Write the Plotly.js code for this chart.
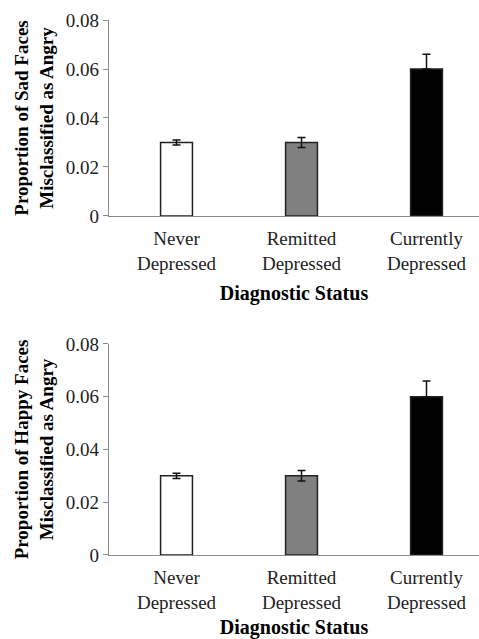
<!DOCTYPE html>
<html>
<head>
<meta charset="utf-8">
<script src="https://cdn.plot.ly/plotly-3.0.1.min.js"></script>
<style>html,body{margin:0;padding:0;background:#fff}#chart{width:479px;height:639px}</style>
</head>
<body>
<div id="chart"></div>
<script>
const categories = ["Never<br>Depressed", "Remitted<br>Depressed", "Currently<br>Depressed"];
const sadValues = [0.030, 0.030, 0.060];
const sadErrorsPlus = [0.001, 0.002, 0.006];
const sadErrorsMinus = [0.001, 0.002, 0];
const happyValues = [0.030, 0.030, 0.060];
const happyErrorsPlus = [0.001, 0.002, 0.006];
const happyErrorsMinus = [0.001, 0.002, 0];
const yTickVals = [0, 0.02, 0.04, 0.06, 0.08];
const yTickText = ["0", "0.02", "0.04", "0.06", "0.08"];
const barColors = ["#ffffff", "#808080", "#000000"];

const serif = "'Liberation Serif', 'Times New Roman', serif";
const xIdx = [0, 1, 2];

function barTrace(vals, errP, errM, xa, ya) {
  return {
    type: "bar", x: xIdx, y: vals, xaxis: xa, yaxis: ya,
    width: 0.255,
    marker: {color: barColors, line: {color: "#222", width: 1.5}},
    error_y: {type: "data", symmetric: false, array: errP, arrayminus: errM, visible: true, color: "#111", thickness: 1.5, width: 4},
    hoverinfo: "skip", showlegend: false
  };
}

const xCommon = {
  tickmode: "array", tickvals: xIdx, ticktext: categories,
  range: [-0.54, 2.42], showline: true, linecolor: "#8c8c8c", linewidth: 1.2,
  ticks: "", showgrid: false, zeroline: false, fixedrange: true, ticklabelstandoff: 5,
  tickfont: {family: serif, size: 19, color: "#222"},
  title: {text: "<b>Diagnostic Status</b>", font: {family: serif, size: 20, color: "#000"}, standoff: 13}
};
const yCommon = {
  range: [0, 0.08], tickmode: "array", tickvals: yTickVals, ticktext: yTickText,
  showline: true, linecolor: "#8c8c8c", linewidth: 1.2, ticks: "outside", ticklen: 5, tickcolor: "#8c8c8c",
  showgrid: false, zeroline: false, fixedrange: true,
  tickfont: {family: serif, size: 19, color: "#222"}
};

const layout = {
  width: 479, height: 639,
  font: {family: serif, size: 19, color: "#222"},
  margin: {l: 0, r: 0, t: 0, b: 0},
  paper_bgcolor: "#fff", plot_bgcolor: "#fff",
  xaxis: Object.assign({}, xCommon, {domain: [0.2276, 1], anchor: "y"}),
  yaxis: Object.assign({}, yCommon, {domain: [0.662, 0.9687], anchor: "x",
    title: {text: "<b>Proportion of Sad Faces<br>Misclassified as Angry</b>", font: {family: serif, size: 19, color: "#000"}, standoff: 7}}),
  xaxis2: Object.assign({}, xCommon, {domain: [0.2276, 1], anchor: "y2"}),
  yaxis2: Object.assign({}, yCommon, {domain: [0.1315, 0.4617], anchor: "x2",
    title: {text: "<b>Proportion of Happy Faces<br>Misclassified as Angry</b>", font: {family: serif, size: 19, color: "#000"}, standoff: 7}})
};

Plotly.newPlot("chart", [barTrace(sadValues, sadErrorsPlus, sadErrorsMinus, "x", "y"), barTrace(happyValues, happyErrorsPlus, happyErrorsMinus, "x2", "y2")], layout, {displayModeBar: false, staticPlot: true});
</script>
</body>
</html>
